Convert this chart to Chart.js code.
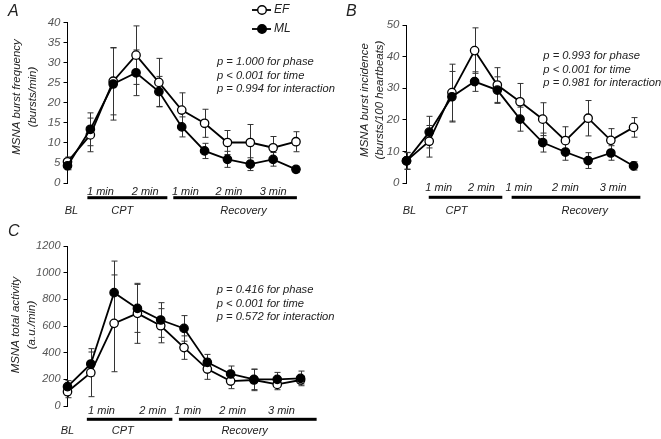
<!DOCTYPE html>
<html>
<head>
<meta charset="utf-8">
<script src="https://cdn.jsdelivr.net/npm/chart.js@4.4.0/dist/chart.umd.min.js"></script>
<style>
html,body{margin:0;padding:0;background:#fff;}
#wrap{position:relative;width:661px;height:439px;overflow:hidden;background:#fff;}
.pn{position:absolute;}
</style>
</head>
<body>
<div id="wrap">
  <div class="pn" style="left:0;top:220px"><canvas id="cC" width="345" height="219"></canvas></div>
  <div class="pn" style="left:0;top:0"><canvas id="cA" width="345" height="220"></canvas></div>
  <div class="pn" style="left:330px;top:0"><canvas id="cB" width="331" height="220"></canvas></div>
</div>
<script>
// time points: baseline, CPT every 30 s, recovery every 30 s
const timepoints = ['BL','CPT 30 s','CPT 1 min','CPT 90 s','CPT 2 min','Rec 30 s','Rec 1 min','Rec 90 s','Rec 2 min','Rec 150 s','Rec 3 min'];
const minuteLabels = ['1 min','2 min','1 min','2 min','3 min'];
const phaseLabels = ['BL','CPT','Recovery'];
const groups = ['EF','ML'];

// A: burst frequency (bursts/min)
const efFreq    = [5.3, 12.0, 25.4, 31.9, 25.1, 18.2, 14.9, 10.1, 10.1, 8.8, 10.3];
const efFreqErr = [1.2, 4.2, 8.4, 7.3, 6.0, 4.3, 3.5, 3.0, 4.5, 2.8, 2.5];
const mlFreq    = [4.3, 13.4, 24.7, 27.5, 22.8, 14.0, 8.0, 5.9, 4.7, 5.9, 3.4];
const mlFreqErr = [1.0, 4.1, 9.0, 5.7, 3.8, 2.5, 1.9, 2.0, 1.6, 1.7, 0.8];
const pFreq = ['p = 1.000 for phase','p < 0.001 for time','p = 0.994 for interaction'];

// B: burst incidence (bursts/100 heartbeats)
const efInc    = [7.0, 13.2, 28.6, 41.9, 31.0, 25.7, 20.2, 13.4, 20.5, 13.5, 17.6];
const efIncErr = [2.7, 5.0, 9.0, 7.2, 5.5, 5.8, 5.2, 4.4, 5.6, 3.7, 3.1];
const mlInc    = [7.0, 16.1, 27.3, 32.1, 29.4, 20.2, 12.8, 9.8, 7.1, 9.5, 5.4];
const mlIncErr = [2.6, 5.0, 8.0, 3.1, 4.2, 3.8, 3.0, 2.6, 2.5, 2.3, 1.3];
const pInc = ['p = 0.993 for phase','p < 0.001 for time','p = 0.981 for interaction'];

// C: total activity (a.u./min)
const efTot    = [107, 250, 620, 695, 602, 438, 277, 187, 195, 162, 195];
const efTotErr = [45, 180, 363, 225, 128, 88, 77, 57, 80, 40, 30];
const mlTot    = [145, 315, 850, 732, 645, 582, 327, 240, 200, 200, 207];
const mlTotErr = [45, 90, 237, 180, 130, 96, 60, 60, 77, 52, 55];
const pTot = ['p = 0.416 for phase','p < 0.001 for time','p = 0.572 for interaction'];

const FONT = '"Liberation Sans", Arial, sans-serif';
const INK = '#222';

function pts(vals){ return vals.map((v,i)=>({x:i, y:v})); }

const decor = {
  id: 'decor',
  beforeDatasetsDraw(chart, args, o){
    const {ctx, scales:{x, y}} = chart;
    ctx.save();
    ctx.strokeStyle = '#333';
    ctx.lineWidth = 1;
    chart.data.datasets.forEach(ds=>{
      ds.data.forEach((p,i)=>{
        const e = ds.err[i];
        const px = Math.round(x.getPixelForValue(p.x)) + 0.5;
        const y1 = y.getPixelForValue(p.y + e), y2 = y.getPixelForValue(p.y - e);
        ctx.beginPath();
        ctx.moveTo(px, y1); ctx.lineTo(px, y2);
        ctx.moveTo(px-3, y1); ctx.lineTo(px+3, y1);
        ctx.moveTo(px-3, y2); ctx.lineTo(px+3, y2);
        ctx.stroke();
      });
    });
    ctx.restore();
  },
  afterDraw(chart, args, o){
    const {ctx, scales:{x}} = chart;
    ctx.save();
    ctx.fillStyle = INK;
    ctx.textBaseline = 'middle';
    // panel letter
    ctx.font = 'italic 16px ' + FONT;
    ctx.textAlign = 'left';
    ctx.fillText(o.letter, o.letterXY[0], o.letterXY[1]);
    // y title, two rotated lines
    ctx.font = 'italic 11.5px ' + FONT;
    ctx.textAlign = 'center';
    o.yTitle.forEach((t,k)=>{
      ctx.save();
      ctx.translate(o.yTitleX[k], o.yTitleY);
      ctx.rotate(-Math.PI/2);
      ctx.fillText(t, 0, 0);
      ctx.restore();
    });
    // p values
    ctx.font = 'italic 11.2px ' + FONT;
    ctx.textAlign = 'left';
    o.pText.forEach((t,k)=>ctx.fillText(t, o.pX, o.pY + k*13.6));
    // minute labels under axis
    ctx.font = 'italic 11px ' + FONT;
    ctx.textAlign = 'center';
    minuteLabels.forEach((t,k)=>ctx.fillText(t, x.getPixelForValue(o.minPos[k]), o.minY));
    phaseLabels.forEach((t,k)=>ctx.fillText(t, x.getPixelForValue(o.phasePos[k]), o.phaseY));
    // phase bars
    ctx.fillStyle = '#000';
    o.bars.forEach(b=>{
      const a = x.getPixelForValue(b[0]), c = x.getPixelForValue(b[1]);
      ctx.fillRect(a, o.barY - 1.5, c - a, 3);
    });
    // legend
    if (o.legend){
      ctx.strokeStyle = '#000';
      ctx.lineWidth = 1.8;
      groups.forEach((g,k)=>{
        const ly = o.legend[1] + k*19;
        ctx.beginPath(); ctx.moveTo(o.legend[0]-10, ly); ctx.lineTo(o.legend[0]+9, ly); ctx.stroke();
        ctx.beginPath(); ctx.arc(o.legend[0], ly, 4.3, 0, Math.PI*2);
        ctx.fillStyle = k === 0 ? '#fff' : '#000';
        ctx.fill();
        ctx.lineWidth = 1.4; ctx.stroke(); ctx.lineWidth = 1.8;
        ctx.fillStyle = INK;
        ctx.font = 'italic 12px ' + FONT;
        ctx.textAlign = 'left';
        ctx.fillText(g, o.legend[0]+12, ly);
      });
    }
    ctx.restore();
  }
};

function makeChart(id, ef, efErr, ml, mlErr, yMax, yStep, axisX, pad, tickSize, deco){
  return new Chart(document.getElementById(id), {
    type: 'line',
    data: {
      datasets: [
        {label:'ML', data: pts(ml), err: mlErr, order: 0, clip: false,
         borderColor:'#000', borderWidth:1.8, pointRadius:4.2, pointBorderWidth:1.3,
         pointBackgroundColor:'#000', pointBorderColor:'#000', tension:0},
        {label:'EF', data: pts(ef), err: efErr, order: 1, clip: false,
         borderColor:'#000', borderWidth:1.8, pointRadius:4.2, pointBorderWidth:1.3,
         pointBackgroundColor:'#fff', pointBorderColor:'#000', tension:0}
      ]
    },
    options: {
      responsive: false,
      animation: false,
      events: [],
      layout: {padding: pad},
      plugins: {legend:{display:false}, tooltip:{enabled:false}, decor: deco},
      scales: {
        x: {type:'linear', min:0, max:10.5, display:false},
        y: {
          min:0, max:yMax,
          afterFit: s => { s.width = axisX; },
          border: {display:true, color:'#000', width:1},
          grid: {drawOnChartArea:false, drawTicks:true, tickLength:4, color:'#000'},
          ticks: {stepSize:yStep, padding:3, color:'#555',
                  callback: v => String(v),
                  font:{family:FONT, size:tickSize, style:'italic'}}
        }
      }
    },
    plugins: [decor]
  });
}

makeChart('cA', efFreq, efFreqErr, mlFreq, mlFreqErr, 40, 5, 67.5,
  {left:0, top:22.7, right:345-307.4, bottom:37}, 11.5,
  {letter:'A', letterXY:[8,12], yTitle:['MSNA burst frequency','(bursts/min)'],
   yTitleX:[17,33], yTitleY:97, pText:pFreq, pX:217, pY:62,
   minPos:[1.44,3.4,5.16,7.07,9.0], phasePos:[0.17,2.4,7.7],
   bars:[[0.87,4.37],[4.63,10.04]], minY:191.7, barY:197.7, phaseY:210.7,
   legend:[262,10]});

makeChart('cB', efInc, efIncErr, mlInc, mlIncErr, 50, 10, 76.5,
  {left:0, top:25, right:331-314.9, bottom:37}, 11.5,
  {letter:'B', letterXY:[16,12], yTitle:['MSNA burst incidence','(bursts/100 heartbeats)'],
   yTitleX:[35,50], yTitleY:100, pText:pInc, pX:213.3, pY:56,
   minPos:[1.42,3.3,4.95,7.0,9.1], phasePos:[0.13,2.2,7.85],
   bars:[[0.98,4.22],[4.63,10.3]], minY:188.3, barY:197.3, phaseY:210.7});

makeChart('cC', efTot, efTotErr, mlTot, mlTotErr, 1200, 200, 67.5,
  {left:0, top:26, right:345-312.2, bottom:33}, 11,
  {letter:'C', letterXY:[8,12], yTitle:['MSNA total activity','(a.u./min)'],
   yTitleX:[16,32], yTitleY:105, pText:pTot, pX:216.7, pY:70,
   minPos:[1.46,3.66,5.16,7.09,9.18], phasePos:[0.0,2.37,7.6],
   bars:[[0.83,4.5],[4.78,10.69]], minY:191, barY:199.3, phaseY:210.7});
</script>
</body>
</html>
